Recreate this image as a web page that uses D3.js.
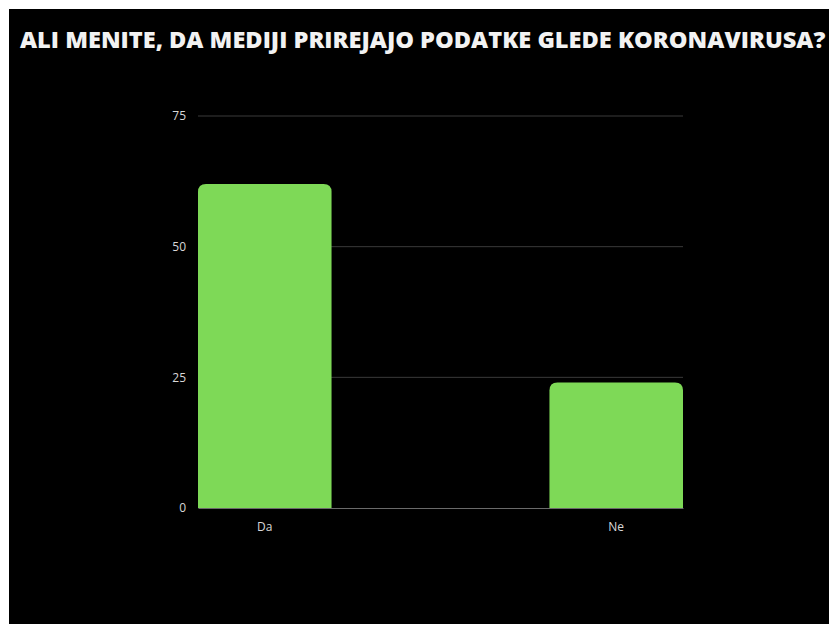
<!DOCTYPE html>
<html>
<head>
<meta charset="utf-8">
<script src="https://cdn.jsdelivr.net/npm/d3@7"></script>
<style>
  html, body { margin: 0; padding: 0; background: #ffffff; }
  svg { display: block; }
</style>
</head>
<body>
<svg id="chart" width="829" height="624"></svg>
<script>
// Survey answers
const categories = ["Da", "Ne"];
const values = [62, 24];
const yTicks = [0, 25, 50, 75];
const title = "ALI MENITE, DA MEDIJI PRIREJAJO PODATKE GLEDE KORONAVIRUSA?";

const svg = d3.select("#chart");
const W = 829, H = 624;

// black panel with a thin white margin on the top and left
svg.append("rect").attr("x", 9).attr("y", 9).attr("width", W - 9).attr("height", H - 9).attr("fill", "#000");

const plot = { left: 198, right: 683, top: 116, bottom: 508 };

const x = d3.scaleBand()
  .domain(categories)
  .range([plot.left, plot.right])
  .paddingInner(0.62)
  .paddingOuter(0);

const y = d3.scaleLinear()
  .domain([0, 75])
  .range([plot.bottom, plot.top]);

// gridlines
svg.append("g")
  .selectAll("line")
  .data(yTicks.filter(d => d > 0))
  .join("line")
  .attr("x1", plot.left).attr("x2", plot.right)
  .attr("y1", d => y(d)).attr("y2", d => y(d))
  .attr("stroke", "#3a3a3a").attr("stroke-width", 1);

// y axis labels
const yAxis = d3.axisLeft(y).tickValues(yTicks).tickSize(0).tickPadding(12);
const gy = svg.append("g").attr("transform", `translate(${plot.left},0)`).call(yAxis);
gy.select(".domain").remove();
gy.selectAll("text")
  .attr("fill", "#d8d8d8")
  .attr("font-family", "Open Sans, sans-serif")
  .attr("font-size", 12);

// bars with rounded top corners
const r = 8;
function barPath(x0, x1, yTop, yBase) {
  const rr = Math.min(r, (yBase - yTop));
  return `M${x0},${yBase}V${yTop + rr}Q${x0},${yTop} ${x0 + rr},${yTop}H${x1 - rr}Q${x1},${yTop} ${x1},${yTop + rr}V${yBase}Z`;
}
svg.append("g")
  .selectAll("path")
  .data(categories.map((c, i) => ({ c, v: values[i] })))
  .join("path")
  .attr("d", d => barPath(x(d.c), x(d.c) + x.bandwidth(), y(d.v), y(0)))
  .attr("fill", "#7ed957");

// baseline / x axis
const xAxis = d3.axisBottom(x).tickSize(0).tickPadding(14);
const gx = svg.append("g").attr("transform", `translate(0,${plot.bottom})`).call(xAxis);
gx.select(".domain").attr("stroke", "#6a6a6a").attr("stroke-width", 1.2);
gx.selectAll("text")
  .attr("fill", "#d8d8d8")
  .attr("font-family", "Open Sans, sans-serif")
  .attr("font-size", 12);

// title, sized to span the panel width
const t = svg.append("text")
  .attr("x", 20).attr("y", 48)
  .attr("fill", "#f2f2f2")
  .attr("font-family", "Open Sans, sans-serif")
  .attr("font-weight", 800)
  .attr("font-size", 22)
  .text(title);
const len = t.node().getComputedTextLength();
t.attr("font-size", 22 * 806 / len);
</script>
</body>
</html>
